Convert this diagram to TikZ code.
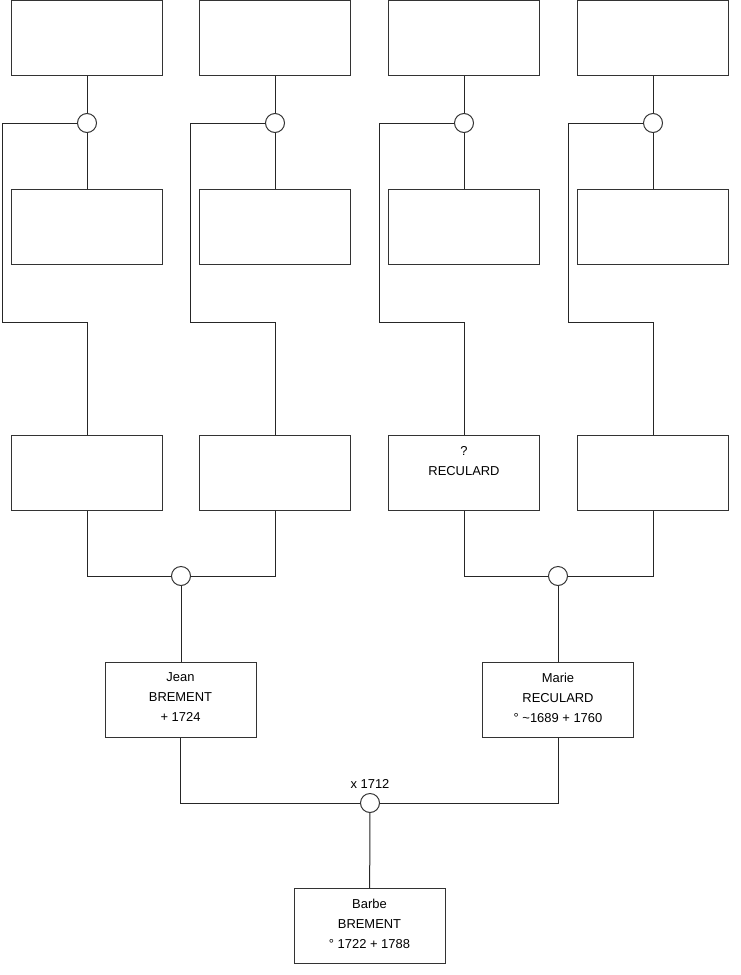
\documentclass[tikz,border=0pt]{standalone}
\usepackage{fontspec}
\setmainfont{Liberation Sans}
\usetikzlibrary{positioning}

\begin{document}
\begin{tikzpicture}[
    x=0.75pt, y=-0.75pt,
    every node/.style={font=\fontsize{9.7}{15}\selectfont},
    person/.style={draw=black!80, line width=0.75pt, minimum width=113.25pt,
        minimum height=56.25pt, inner sep=0pt, align=center, text depth=3pt},
    union/.style={draw=black!80, line width=0.75pt, circle, minimum size=14.25pt,
        inner sep=0pt, fill=white},
    link/.style={draw=black!85, line width=0.75pt}
]
\useasboundingbox (0,0) rectangle (740,975);

% great-grandparents
\foreach \c/\x in {a/87, b/275, c/464, d/653} {
    \node[person] (top\c) at (\x,38) {};
    \node[union] (u\c) at (\x,123) {};
    \node[person] (mid\c) at (\x,227) {};
    \coordinate (bend\c) at (\x-85,322);
}

% grandparents
\node[person] (lowa) at (87,472.5) {};
\node[person] (lowb) at (275,472.5) {};
\node[person] (lowc) at (464,472.5) {?\\RECULARD\\\mbox{}};
\node[person] (lowd) at (653,472.5) {};
\node[union] (ul) at (181,576) {};
\node[union] (ur) at (558,576) {};

% parents
\node[person] (jean) at (180.5,699.5) {Jean\\BREMENT\\+ 1724};
\node[person] (marie) at (558,699.5) {Marie\\RECULARD\\° \textasciitilde1689 + 1760};
\node[union] (wed) at (370,803) {};
\node[above=0pt of wed] (wedlbl) {x 1712};
\node[person] (barbe) at (369.5,926) {Barbe\\BREMENT\\° 1722 + 1788};

\foreach \c in {a,b,c,d} {
    \draw[link] (top\c) -- (u\c) -- (mid\c);
    \draw[link] (u\c.west) -| (bend\c) -| (low\c.north);
}
\draw[link] (lowa) |- (ul);
\draw[link] (lowb) |- (ul);
\draw[link] (lowc) |- (ur);
\draw[link] (lowd) |- (ur);
\draw[link] (ul) -- (ul |- jean.north);
\draw[link] (ur) -- (ur |- marie.north);
\draw[link] (jean) |- (wed);
\draw[link] (marie) |- (wed);
\draw[link] (wed) -- (barbe);
\end{tikzpicture}
\end{document}
